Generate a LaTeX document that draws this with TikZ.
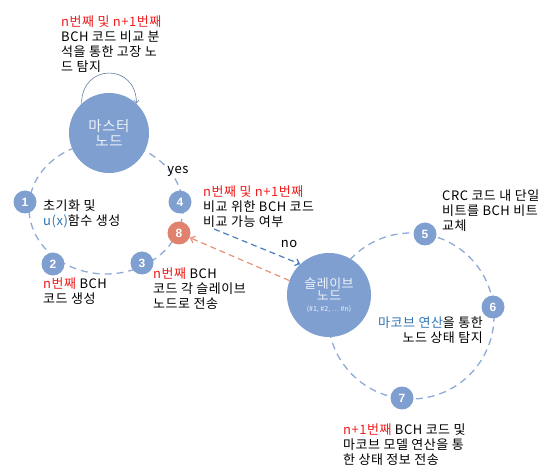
\documentclass[tikz,border=0pt]{standalone}
\usepackage{fontspec}
\setmainfont{Noto Sans CJK KR}[LetterSpace=4]
\newfontfamily\numfont{Liberation Sans}
\newfontfamily\tinyfont{Noto Sans CJK KR}
\usetikzlibrary{arrows.meta}
\definecolor{nodeblue}{HTML}{7F9FD0}
\definecolor{loopblue}{HTML}{8FABD7}
\definecolor{nodered}{HTML}{E0826E}
\definecolor{txtred}{HTML}{F01E1E}
\definecolor{txtblue}{HTML}{2E75B6}
\definecolor{arrblue}{HTML}{4A7EBB}
\definecolor{arrred}{HTML}{E8927C}
\definecolor{lighttxt}{HTML}{EEF2F8}
\newcommand{\rd}[1]{\textcolor{txtred}{#1}}
\newcommand{\bl}[1]{\textcolor{txtblue}{#1}}
\begin{document}
\begin{tikzpicture}[x=1pt,y=1pt,
  loopdash/.style={draw=loopblue, line width=1.3pt, dash pattern=on 7pt off 5pt},
  numnode/.style={circle, fill=nodeblue, minimum size=23pt, inner sep=0pt, text=white, font=\numfont\bfseries\fontsize{12}{12}\selectfont},
  rednode/.style={numnode, fill=nodered},
  bignode/.style={circle, fill=nodeblue, inner sep=0pt, text=lighttxt, align=center},
  desc/.style={anchor=north west, inner sep=0pt, align=left, font=\fontsize{13}{15}\selectfont},
  lbl/.style={inner sep=0pt, font=\fontsize{13}{15}\selectfont},
  noarrow/.style={draw=arrblue, line width=1.2pt, dash pattern=on 6pt off 4pt, -{Straight Barb[length=4pt,width=7pt]}},
  backarrow/.style={draw=arrred, line width=1.2pt, dash pattern=on 6pt off 4pt, -{Straight Barb[length=4pt,width=7pt]}},
  selfloop/.style={draw=nodeblue!80!black, line width=0.6pt, -{Straight Barb[length=3pt,width=5pt]}}
]
\useasboundingbox (0,0) rectangle (552,-470);
\fill[white] (0,0) rectangle (552,-470);

% loops
\draw[loopdash] (106,-208) ellipse [x radius=77, y radius=66];
\draw[loopdash] (411,-316) circle [radius=83];

% big nodes
\node[bignode, minimum size=80pt, font=\fontsize{14.5}{15}\selectfont] (master) at (109,-133) {마스터\\노드};
\node[bignode, minimum size=84pt] (slave) at (329,-295) {{\fontsize{13}{15}\selectfont 슬레이브}\\{\fontsize{13}{13}\selectfont 노드}\\[-1pt]{\tinyfont\fontsize{7}{8}\selectfont (\#1, \#2, ⋯ \#n)}};

% numbered nodes
\node[numnode] (n1) at (25,-202) {1};
\node[numnode] (n2) at (53,-264) {2};
\node[numnode] (n3) at (142,-263) {3};
\node[numnode] (n4) at (180,-202) {4};
\node[rednode] (n8) at (179,-233) {8};
\node[numnode] (n5) at (425,-234) {5};
\node[numnode] (n6) at (493,-307) {6};
\node[numnode] (n7) at (402,-398) {7};

% self loop
\draw[selfloop] (master.133) to[out=90,in=90,looseness=1.9] (master.47);

% arrows
\coordinate (nostart) at (214,-229);
\draw[noarrow] (nostart) -- (slave.133);
\draw[backarrow] (slave.160) -- (n8);

% labels
\node[lbl] (yes) at (178,-171) {yes};
\node[lbl] (no) at (289,-244) {no};

% descriptions
\node[desc] (tA) at (61,-15.5) {\rd{n번째 및 n+1번째}\\BCH 코드 비교 분\\석을 통한 고장 노\\드 탐지};
\node[desc] (tB) at (43,-200) {초기화 및\\\bl{u(x)}함수 생성};
\node[desc] (tC) at (43,-278) {\rd{n번째} BCH\\코드 생성};
\node[desc] (tD) at (153,-268) {\rd{n번째} BCH\\코드 각 슬레이브\\노드로 전송};
\node[desc] (tE) at (203,-185.5) {\rd{n번째 및 n+1번째}\\비교 위한 BCH 코드\\비교 가능 여부};
\node[desc] (tH) at (442,-190) {CRC 코드 내 단일\\비트를 BCH 비트\\교체};
\node[desc, anchor=north east, align=right] (tI) at (483,-317) {\bl{마코브 연산}을 통한\\노드 상태 탐지};
\node[desc] (tJ) at (343,-424) {\rd{n+1번째} BCH 코드 및\\마코브 모델 연산을 통\\한 상태 정보 전송};
\end{tikzpicture}
\end{document}
